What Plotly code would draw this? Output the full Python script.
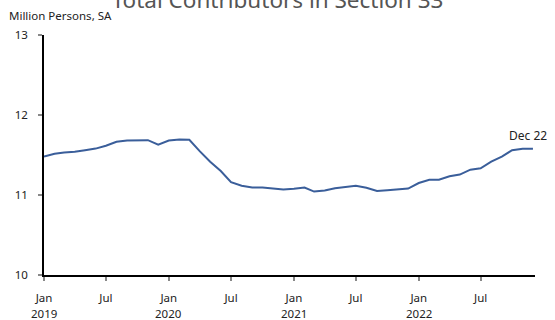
import plotly.graph_objects as go
import pandas as pd

dates = pd.date_range("2019-01-01", "2022-12-01", freq="MS")
values = [
    11.48, 11.515, 11.53, 11.54, 11.56, 11.58, 11.615, 11.665, 11.68, 11.68, 11.685, 11.63,
    11.68, 11.695, 11.69, 11.545, 11.415, 11.30, 11.16, 11.115, 11.095, 11.095, 11.085, 11.068,
    11.077, 11.093, 11.043, 11.056, 11.085, 11.10, 11.114, 11.09, 11.05, 11.06, 11.068, 11.08,
    11.15, 11.19, 11.19, 11.235, 11.255, 11.317, 11.333, 11.416, 11.48, 11.56, 11.578, 11.578,
]
tick_vals = ["2019-01-01", "2019-07-01", "2020-01-01", "2020-07-01",
             "2021-01-01", "2021-07-01", "2022-01-01", "2022-07-01"]
tick_text = ["Jan", "Jul", "Jan", "Jul", "Jan", "Jul", "Jan", "Jul"]
year_pos = ["2019-01-01", "2020-01-01", "2021-01-01", "2022-01-01"]
year_text = ["2019", "2020", "2021", "2022"]
y_ticks = [10, 11, 12, 13]
title = "Total Contributors in Section 33"
y_unit = "Million Persons, SA"
last_label = "Dec 22"

FONT = "Noto Sans"
PLOT_W, PLOT_H = 491, 240
fig = go.Figure()
fig.add_trace(go.Scatter(x=dates, y=values, mode="lines",
                         line=dict(color="#3a5e9a", width=2), hoverinfo="skip"))

fig.update_layout(
    width=555, height=320,
    margin=dict(l=44, r=20, t=35, b=45, autoexpand=False),
    paper_bgcolor="white", plot_bgcolor="white",
    showlegend=False,
    font=dict(family=FONT, size=11, color="#222"),
    title=dict(text=title, x=0.5, xanchor="center", y=1.0, yanchor="middle",
               yref="container", font=dict(family=FONT, size=22.5, color="#555")),
)
fig.update_xaxes(
    range=["2019-01-01", "2022-12-07"],
    tickvals=tick_vals, ticktext=tick_text,
    showline=True, linecolor="black", linewidth=1.5,
    ticks="outside", ticklen=4, tickcolor="#888", tickwidth=1.5,
    ticklabelstandoff=7, automargin=False,
    showgrid=False, zeroline=False,
    tickfont=dict(size=11.5, color="#222"),
)
fig.update_yaxes(
    range=[10, 13], tickvals=y_ticks,
    showline=True, linecolor="black", linewidth=1.5,
    ticks="outside", ticklen=4, tickcolor="#888", tickwidth=1.5,
    ticklabelstandoff=8, automargin=False,
    showgrid=False, zeroline=False,
    tickfont=dict(size=11.5, color="#222"),
)
for xp, yt in zip(year_pos, year_text):
    fig.add_annotation(text=yt, x=xp, xref="x", yref="paper", y=-(313 - 275) / PLOT_H,
                       xanchor="center", yanchor="middle", showarrow=False, borderpad=0,
                       font=dict(size=11.5, color="#222"))
fig.add_annotation(text=y_unit, xref="paper", yref="paper", x=-44 / PLOT_W, y=1 + 20 / PLOT_H,
                   xanchor="left", yanchor="middle", xshift=7, showarrow=False,
                   font=dict(size=11.5, color="#222"))
fig.add_annotation(text=last_label, x=dates[-1], y=values[-1], xanchor="center",
                   yanchor="bottom", yshift=3, xshift=-5, showarrow=False,
                   font=dict(size=12, color="#222"))
fig.write_html("out.html")
